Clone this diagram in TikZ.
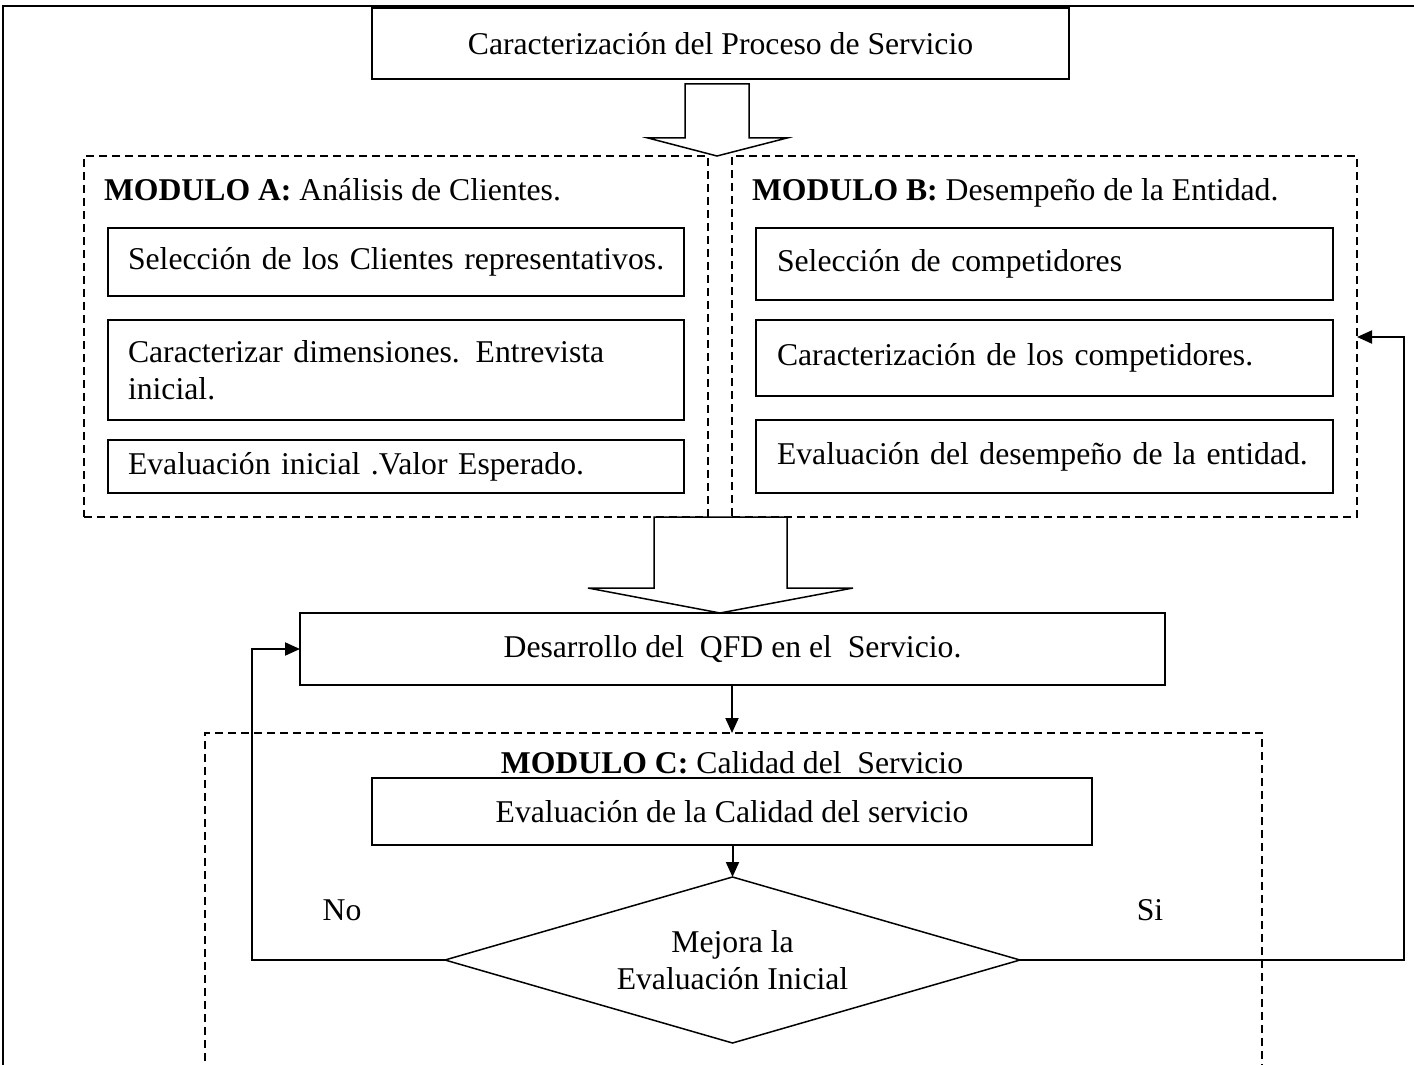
\documentclass[tikz,border=0pt]{standalone}
\usepackage{fontspec}
\setmainfont{Liberation Serif}
\usetikzlibrary{arrows.meta,shapes.geometric}
\begin{document}
\begin{tikzpicture}[x=0.5pt,y=-0.5pt,
  every node/.style={font=\fontsize{15.85}{18.5}\selectfont},
  box/.style={draw,line width=0.75pt,inner sep=0pt,outer sep=0pt,align=center},
  lbox/.style={draw,line width=0.75pt,outer sep=0pt,inner ysep=0pt,inner xsep=10pt,align=left},
  modbox/.style={draw,line width=0.6pt,dash pattern=on 4pt off 2.5pt,inner sep=0pt,outer sep=0pt},
  conn/.style={line width=1pt,-{Triangle[length=7.5pt,width=6.5pt]}},
  blk/.style={draw,line width=0.75pt,fill=white,line join=miter},
  lbl/.style={inner sep=0pt,outer sep=0pt}]
\useasboundingbox (0,0) rectangle (1414,1065);
\clip (0,0) rectangle (1414,1065);
\fill[white] (0,0) rectangle (1414,1065);

% outer frame
\coordinate (fbl) at (3,1070);
\coordinate (ftl) at (3,6);
\coordinate (ftr) at (1420,6);
\draw[line width=1pt] (fbl) -- (ftl) -- (ftr);

% top box
\node[box,minimum width=348.5pt,minimum height=35.5pt] (top) at (720.5,43.5) {Caracterización del Proceso de Servicio};

% modules A and B
\node[modbox,minimum width=312pt,minimum height=180.5pt] (modA) at (396,336.5) {};
\node[modbox,minimum width=312.5pt,minimum height=180.5pt] (modB) at (1044.5,336.5) {};

% block arrow 1
\draw[blk] (685,84) -- (749,84) -- (749,138) -- (787,138) -- (717,156) -- (648,138) -- (685,138) -- cycle;

\node[lbl,anchor=base west] (hA) at (104,200) {\textbf{MODULO A:} Análisis de Clientes.};
\node[lbl,anchor=base west] (hB) at (752,200) {\textbf{MODULO B:} Desempeño de la Entidad.};

\node[lbox,text width=268pt,minimum height=34pt] (a1) at (396,262) {\mbox{Selección de los Clientes representativos.}};
\node[lbox,text width=268pt,minimum height=50pt] (a2) at (396,370) {\mbox{Caracterizar dimensiones. Entrevista}\\\mbox{inicial.}};
\node[lbox,text width=268pt,minimum height=26.5pt] (a3) at (396,466.5) {\raisebox{-3pt}{\mbox{Evaluación inicial .Valor Esperado.}}};

\node[lbox,text width=267.5pt,inner xsep=10.5pt,minimum height=36pt] (b1) at (1044.5,264) {\mbox{Selección de competidores}};
\node[lbox,text width=267.5pt,inner xsep=10.5pt,minimum height=38pt] (b2) at (1044.5,358) {\mbox{Caracterización de los competidores.}};
\node[lbox,text width=267.5pt,inner xsep=10.5pt,minimum height=36.5pt] (b3) at (1044.5,456.5) {\mbox{Evaluación del desempeño de la entidad.}};

% block arrow 2
\draw[blk] (654,517) -- (787,517) -- (787,588) -- (853,588) -- (720,613) -- (588,588) -- (654,588) -- cycle;

% QFD
\node[box,minimum width=432.5pt,minimum height=36pt] (qfd) at (732.5,649) {Desarrollo del\ \ QFD en el\ \ Servicio.};

% module C
\node[modbox,minimum width=528.5pt,minimum height=200pt] (modC) at (733.5,933) {};
\draw[conn] (qfd.south -| 732,0) -- (modC.north -| 732,0);

\node[lbl,anchor=base] (hC) at (732,773) {\textbf{MODULO C:} Calidad del\ \ Servicio};
\node[box,minimum width=360pt,minimum height=33.5pt] (ev) at (732,811.5) {Evaluación de la Calidad del servicio};

\node[draw,diamond,aspect=3.46,line width=0.75pt,inner sep=0pt,outer sep=0pt,minimum width=287.5pt,minimum height=83pt,align=center,fill=white] (dia) at (732.5,960) {Mejora la\\Evaluación Inicial};
\draw[conn] (ev.south -| dia.north) -- (dia.north);

\node[lbl] (no) at (342,910) {No};
\node[lbl] (si) at (1150,910) {Si};

\coordinate (nocorner) at (252,960);
\coordinate (sicorner) at (1404,960);
\coordinate (bentry) at (1357,337);
\draw[conn] (dia.west) -- (nocorner) |- (qfd.west);
\draw[conn] (dia.east) -- (sicorner) |- (bentry);
\end{tikzpicture}
\end{document}
